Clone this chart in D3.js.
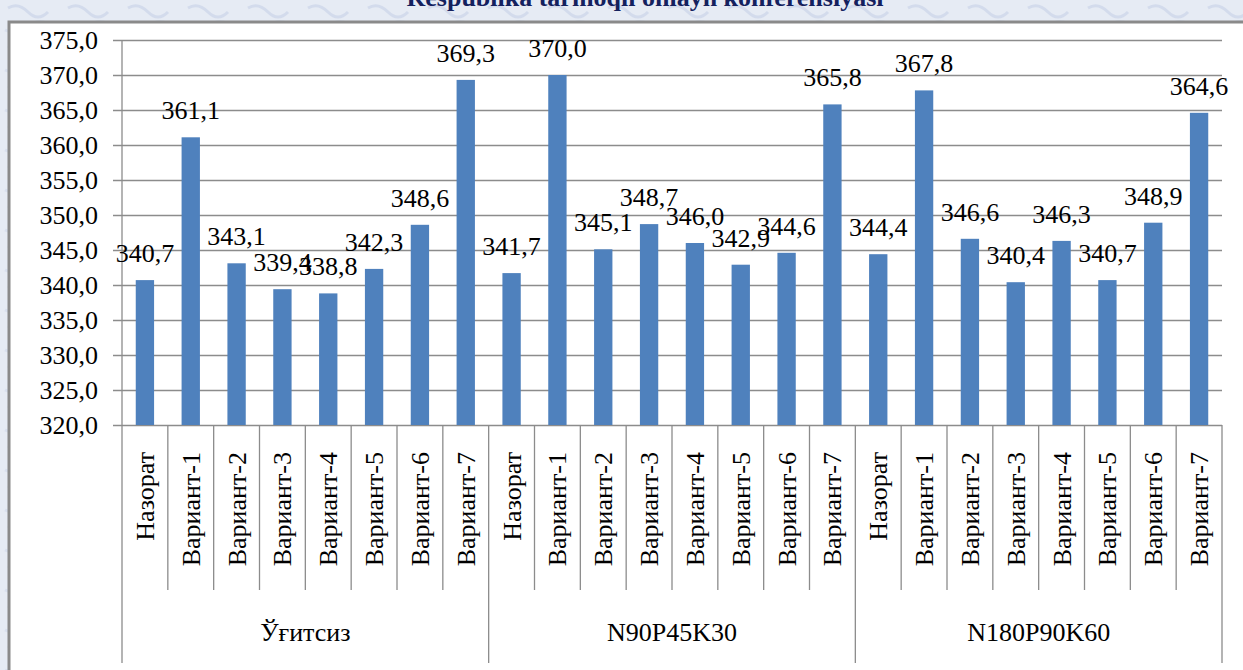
<!DOCTYPE html>
<html><head><meta charset="utf-8">
<script src="https://cdn.jsdelivr.net/npm/d3@7"></script>
<style>
html,body{margin:0;padding:0;width:1243px;height:670px;overflow:hidden;background:#e4e9f3;}
svg{display:block;}
</style></head><body>
<svg id="c" width="1243" height="670"></svg>
<script>
const title = "Respublika tarmoqli onlayn konferensiyasi";
const groups = ["Ўғитсиз", "N90P45K30", "N180P90K60"];
const categories = ["Назорат", "Вариант-1", "Вариант-2", "Вариант-3", "Вариант-4", "Вариант-5", "Вариант-6", "Вариант-7"];
const valuesG1 = [340.7, 361.1, 343.1, 339.4, 338.8, 342.3, 348.6, 369.3];
const valuesG2 = [341.7, 370.0, 345.1, 348.7, 346.0, 342.9, 344.6, 365.8];
const valuesG3 = [344.4, 367.8, 346.6, 340.4, 346.3, 340.7, 348.9, 364.6];
const yTicks = [320, 325, 330, 335, 340, 345, 350, 355, 360, 365, 370, 375];

const seriesByGroup = [valuesG1, valuesG2, valuesG3];
const data = [];
groups.forEach((g, gi) => categories.forEach((c, ci) => data.push({key: g + "|" + ci, group: g, cat: c, value: seriesByGroup[gi][ci]})));

// pick an installed serif font
const cv = document.createElement("canvas").getContext("2d");
function w(font) { cv.font = font; return cv.measureText("Вариант-1 375,0 Respublika").width; }
const candidates = ["Liberation Serif", "Times New Roman", "DejaVu Serif", "Tinos", "Noto Serif", "FreeSerif", "Nimbus Roman"];
let serif = null;
for (const f of candidates) {
  if (w(`26px "${f}", monospace`) !== w("26px monospace")) { serif = f; break; }
}
const fam = serif ? `"${serif}", serif` : "serif";
// match Times-like width if serif fallback differs
const refW = w('26px "Liberation Serif", serif');
const fs = 26;

const svg = d3.select("#c").style("font-family", fam);
const fmt = v => d3.format(".1f")(v).replace(".", ",");

// background pattern (light)
const defs = svg.append("defs");
const pat = defs.append("pattern").attr("id","bgp").attr("width",60).attr("height",40).attr("patternUnits","userSpaceOnUse");
pat.append("rect").attr("width",60).attr("height",40).attr("fill","#e6ebf4");
pat.append("path").attr("d","M8 8 q10 -6 20 4 t20 0").attr("stroke","#d3dbec").attr("stroke-width",3).attr("fill","none");
pat.append("path").attr("d","M5 30 q12 6 24 -4 t24 2").attr("stroke","#d9e0ef").attr("stroke-width",3).attr("fill","none");
svg.append("rect").attr("width",1243).attr("height",670).attr("fill","url(#bgp)");

// title (cut off at top)
svg.append("text").attr("x", 645).attr("y", 6).attr("text-anchor","middle")
  .attr("font-family", fam).attr("font-weight","bold").attr("font-size", fs)
  .attr("fill","#14215e").text(title);

// chart frame
svg.append("rect").attr("x", 9).attr("y", 22).attr("width", 1250).attr("height", 670)
  .attr("fill","#fff").attr("stroke","#8a8a8a").attr("stroke-width",3);

const pLeft = 122, pRight = 1222, pTop = 40, pBottom = 425;
const y = d3.scaleLinear().domain([320, 375]).range([pBottom, pTop]);
const x = d3.scaleBand().domain(data.map(d => d.key)).range([pLeft, pRight]).padding(0);
const gx = d3.scaleBand().domain(groups).range([pLeft, pRight]).padding(0);
const step = x.bandwidth();

// gridlines + y axis
const yAxis = d3.axisLeft(y).tickValues(yTicks).tickFormat(fmt).tickSize(-(pRight - pLeft)).tickPadding(14);
const ya = svg.append("g").attr("transform", `translate(${pLeft},0)`).call(yAxis);
ya.attr("font-family", fam);
ya.select(".domain").remove();
ya.selectAll(".tick line").attr("stroke","#8c8c8c").attr("stroke-width",1.3).attr("x1", -9);
ya.selectAll(".tick text").attr("font-family", fam).attr("font-size", fs).attr("fill","#000").attr("dy","0.34em").attr("x",-24);

// axis vertical line
svg.append("line").attr("x1",pLeft).attr("x2",pLeft).attr("y1",pTop).attr("y2",663).attr("stroke","#8c8c8c").attr("stroke-width",1.3);
svg.append("line").attr("x1",pRight).attr("x2",pRight).attr("y1",pBottom).attr("y2",663).attr("stroke","#8c8c8c").attr("stroke-width",1.3);

// category separators
svg.append("g").selectAll("line").data(data.slice(1)).join("line")
  .attr("x1", d => x(d.key)).attr("x2", d => x(d.key))
  .attr("y1", pBottom).attr("y2", d => d.key.endsWith("|0") ? 663 : 590)
  .attr("stroke","#8c8c8c").attr("stroke-width",1.3);

// bars
svg.append("g").selectAll("rect").data(data).join("rect")
  .attr("x", d => x(d.key) + step * 0.3)
  .attr("width", step * 0.4)
  .attr("y", d => y(d.value))
  .attr("height", d => pBottom - y(d.value))
  .attr("fill", "#4f81bd");

// data labels
svg.append("g").selectAll("text").data(data).join("text")
  .attr("x", d => x(d.key) + step / 2)
  .attr("y", d => y(d.value) - 18)
  .attr("text-anchor","middle")
  .attr("font-family", fam).attr("font-size", fs).attr("fill","#000")
  .text(d => fmt(d.value));

// category labels rotated
svg.append("g").selectAll("text").data(data).join("text")
  .attr("transform", d => `translate(${x(d.key) + step / 2 + 9},452) rotate(-90)`)
  .attr("text-anchor","end")
  .attr("font-family", fam).attr("font-size", fs).attr("fill","#000")
  .text(d => d.cat);

// group labels
svg.append("g").selectAll("text").data(groups).join("text")
  .attr("x", g => gx(g) + gx.bandwidth() / 2)
  .attr("y", 641)
  .attr("text-anchor","middle")
  .attr("font-family", fam).attr("font-size", fs).attr("fill","#000")
  .text(g => g);
</script>
</body></html>
